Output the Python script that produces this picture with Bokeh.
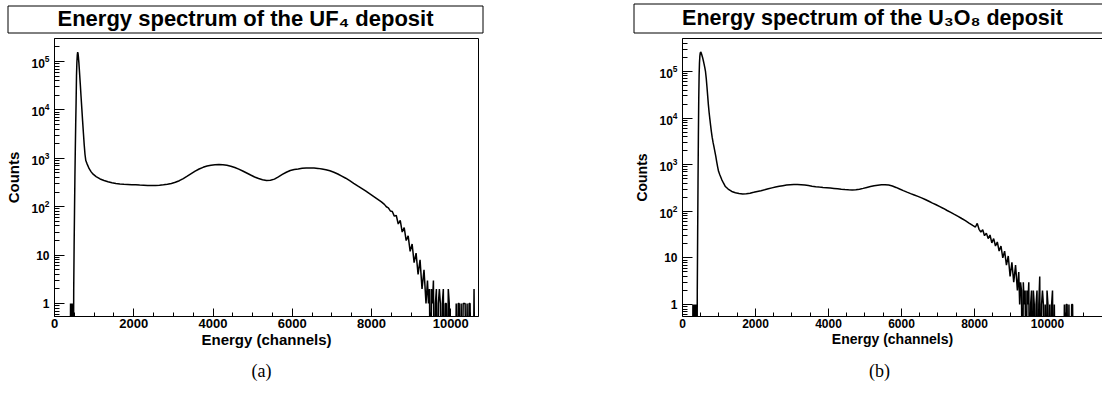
import numpy as np
from bokeh.plotting import figure
from bokeh.layouts import row, column
from bokeh.models import Range1d, FixedTicker, LogTickFormatter, LinearAxis
from bokeh.core.properties import value
from bokeh.embed import file_html
from bokeh.resources import INLINE

# ---------------- texts ----------------
titles = ["Energy spectrum of the UF\u2084 deposit", "Energy spectrum of the U\u2083O\u2088 deposit"]
captions = ["(a)", "(b)"]
x_label = "Energy (channels)"
y_label = "Counts"
x_ticks = [0, 2000, 4000, 6000, 8000, 10000]
y_ticks = [1, 10, 100, 1000, 10000, 100000]

# ---------------- UF4 spectrum (bin segments: first left edge, bin width, counts) ----------------
uf4_seg_starts = [0, 400, 620, 800, 1000, 1500, 8300, 9400]
uf4_seg_widths = [400, 10, 20, 50, 100, 100, 50, 25]
uf4_counts_low = [0]
uf4_counts_peak = [1, 0, 1, 0, 1, 0, 0, 0, 2, 15, 80, 400, 1500, 5000, 14000, 50000,
                   95000, 135000, 156000, 145000, 120000, 95000]
uf4_counts_fall = [62000, 35000, 19000, 10500, 5800, 3300, 1900, 1200, 900]
uf4_counts_knee = [760, 610, 525, 470]
uf4_counts_plateau = [420, 375, 348, 328, 312]
uf4_counts_body = [302, 296, 292, 289, 286, 283, 280, 278, 276, 275,
                   276, 279, 284, 292, 303, 320, 345, 382, 428, 482,
                   542, 602, 652, 694, 722, 740, 745, 736, 716, 686,
                   646, 598, 548, 498, 452, 412, 382, 362, 350, 352,
                   372, 415, 465, 515, 560, 590, 605, 622, 632, 634,
                   630, 620, 603, 582, 552, 516, 474, 430, 388, 345,
                   305, 270, 240, 212, 186, 164, 144, 126]
uf4_counts_slope = [112, 100, 95, 82, 80, 64, 66, 44, 52, 30, 37, 20, 25, 12, 17, 7,
                    11, 4, 8, 2, 5, 1]
uf4_counts_tail = [3, 1, 2, 0, 2, 1, 3, 0, 1, 2, 0, 1, 2, 1, 0, 1, 2, 0, 1, 1, 0, 2, 1, 0,
                   0, 0, 0, 0, 0,
                   1, 0, 1, 1, 0, 1, 0, 1, 1, 1, 0, 1, 0, 1, 1, 0, 0,
                   0, 2, 0, 0, 0, 0]
uf4_end = 10700

# ---------------- U3O8 spectrum ----------------
u3o8_seg_starts = [0, 280, 520, 800, 1000, 1200, 8000, 9200, 10750]
u3o8_seg_widths = [280, 10, 20, 25, 50, 100, 50, 25, 850]
u3o8_counts_low = [0]
u3o8_counts_peak = [1, 0, 1, 0, 1, 0, 1, 0, 1, 0, 1, 0, 2, 30, 400, 4000, 25000, 80000,
                    150000, 210000, 245000, 260000, 258000, 245000]
u3o8_counts_fall = [225000, 200000, 172000, 145000, 122000, 100000, 72000, 47000,
                    30000, 19000, 13000, 9500, 7000, 5200]
u3o8_counts_knee = [3900, 3000, 2400, 1900, 1500, 1150, 900, 720]
u3o8_counts_plateau = [600, 480, 400, 340]
u3o8_counts_body = [300, 266, 250, 241, 236, 238, 245, 255, 266, 277,
                    290, 304, 318, 331, 344, 355, 365, 372, 377, 378,
                    373, 365, 356, 346, 338, 331, 325, 320, 315, 310,
                    304, 298, 293, 289, 286, 289, 296, 310, 325, 340,
                    353, 363, 370, 372, 365, 349, 325, 300, 278, 258,
                    240, 224, 209, 194, 179, 164, 150, 138, 126, 115,
                    104, 95, 86, 78, 70, 63, 56, 50]
u3o8_counts_slope = [46, 55, 41, 36, 40, 30, 34, 26, 31, 21, 26, 18, 22, 14, 18, 10,
                     14, 7, 11, 4, 8, 3, 7, 2]
u3o8_counts_tail = [5, 1, 3, 2, 0, 3, 1, 2, 0, 2, 1, 3, 0, 1, 2, 0, 2, 1, 0, 1,
                    2, 0, 1, 4, 0, 1, 2, 1, 0, 1, 0, 2, 1, 0, 1, 0, 1, 2, 0, 1,
                    0, 0, 0, 0, 0, 0, 0, 0, 0, 0,
                    1, 0, 1, 1, 0, 1, 0, 0, 1, 1, 0, 0]
u3o8_counts_high = [0]
u3o8_end = 11600


def histogram_points(starts, widths, segments, end, floor):
    """Non-empty bins -> point at bin centre; empty bins -> floor at both bin edges."""
    xs, ys = [], []
    bounds = list(starts[1:]) + [end]
    for start, width, counts, stop in zip(starts, widths, segments, bounds):
        for i, c in enumerate(counts):
            left = start + i * width
            right = min(left + width, stop)
            if c > 0:
                xs.append(0.5 * (left + right))
                ys.append(c)
            else:
                xs += [left, right]
                ys += [floor, floor]
    return np.array(xs, float), np.array(ys, float)


FONT = "Liberation Sans"


def bare_fig(width, height):
    f = figure(width=width, height=height, x_range=Range1d(0, width), y_range=Range1d(height, 0),
               x_axis_location=None, y_axis_location=None, toolbar_location=None, title=None,
               output_backend="svg", min_border_left=0, min_border_right=0,
               min_border_top=0, min_border_bottom=0, outline_line_color=None,
               frame_align=False, border_fill_color="white", background_fill_color="white")
    f.grid.visible = False
    return f


def title_fig(width, height, box_left, box_top, box_bottom, box_right, text, text_x, closed, size):
    t = bare_fig(width, height)
    if closed:
        xs = [[box_right, box_left, box_left, box_right, box_right]]
        ys = [[box_top, box_top, box_bottom, box_bottom, box_top]]
    else:
        xs = [[box_right, box_left, box_left, box_right]]
        ys = [[box_top, box_top, box_bottom, box_bottom]]
    t.multi_line(xs, ys, line_color="black", line_width=1)
    t.text(x=[text_x], y=[17.5], text=[text], text_font=value(FONT), text_font_style="bold",
           text_font_size=size, text_align="center", text_baseline="alphabetic", text_color="black")
    return t


def caption_fig(width, height, text, text_x):
    c = bare_fig(width, height)
    c.text(x=[text_x], y=[14], text=[text], text_font=value("Liberation Serif"),
           text_font_size="18px", text_align="center", text_baseline="middle", text_color="black")
    return c


def spectrum_fig(width, height, xs, ys, x_end, y_range, border_left, border_right,
                 tick_size, label_size, closed):
    p = figure(width=width, height=height, x_range=Range1d(0, x_end), y_range=Range1d(*y_range),
               y_axis_type="log", toolbar_location=None, output_backend="svg", title=None,
               min_border_left=border_left, min_border_right=border_right,
               min_border_top=4, min_border_bottom=40, frame_align=False,
               border_fill_color=None,
               outline_line_color="black" if closed else None)
    p.grid.visible = False
    p.line(xs, ys, line_color="black", line_width=1.5)

    minor_x = [v for v in range(500, int(x_end), 500) if v % 2000 != 0]
    p.xaxis.ticker = FixedTicker(ticks=x_ticks, minor_ticks=minor_x)
    minor_y = [m * d for d in [0.1] + y_ticks for m in range(2, 10)]
    p.yaxis.ticker = FixedTicker(ticks=y_ticks, minor_ticks=minor_y)
    p.yaxis.formatter = LogTickFormatter(min_exponent=2)

    for ax, tin, tmin in ((p.xaxis, 8, 4), (p.yaxis, 10, 5)):
        ax.axis_line_color = "black"
        ax.major_tick_line_color = "black"
        ax.minor_tick_line_color = "black"
        ax.major_tick_out = 0
        ax.minor_tick_out = 0
        ax.major_tick_in = tin
        ax.minor_tick_in = tmin
        ax.major_label_text_font = FONT
        ax.major_label_text_font_style = "bold"
        ax.major_label_text_color = "black"
        ax.axis_label_text_font = FONT
        ax.axis_label_text_font_style = "bold"
        ax.axis_label_text_color = "black"
        ax.axis_label_text_font_size = label_size
    p.xaxis.major_label_text_font_size = tick_size
    p.yaxis.major_label_text_font_size = "12px"
    p.xaxis.axis_label = x_label
    p.yaxis.axis_label = y_label
    p.xaxis.major_label_standoff = 2
    p.xaxis.axis_label_standoff = 0
    p.yaxis.major_label_standoff = 5
    p.yaxis.axis_label_standoff = 6
    if not closed:
        top = LinearAxis(ticker=FixedTicker(ticks=[]), major_label_text_font_size="0px",
                         major_tick_in=0, major_tick_out=0, minor_tick_in=0, minor_tick_out=0,
                         axis_line_color="black")
        p.add_layout(top, "above")
    return p


# ----- left panel -----
xa, ya = histogram_points(uf4_seg_starts, uf4_seg_widths,
                          [uf4_counts_low, uf4_counts_peak, uf4_counts_fall, uf4_counts_knee,
                           uf4_counts_plateau, uf4_counts_body, uf4_counts_slope, uf4_counts_tail],
                          uf4_end, 0.1)
ta = title_fig(600, 34, 7.5, 5.5, 32.5, 482.5, titles[0], 245, True, "22px")
pa = spectrum_fig(600, 322, xa, ya, 10700, (0.54, 2.99e5), 54, 122, "13px", "15px", True)
ca = caption_fig(600, 40, captions[0], 261)

# ----- right panel -----
xb, yb = histogram_points(u3o8_seg_starts, u3o8_seg_widths,
                          [u3o8_counts_low, u3o8_counts_peak, u3o8_counts_fall, u3o8_counts_knee,
                           u3o8_counts_plateau, u3o8_counts_body, u3o8_counts_slope,
                           u3o8_counts_tail, u3o8_counts_high],
                          u3o8_end, 0.1)
tb = title_fig(502, 34, 33.5, 3.5, 32.5, 502, titles[1], 272, False, "21.5px")
pb = spectrum_fig(502, 322, xb, yb, 11507, (0.553, 5.1e5), 82, 0, "12px", "14px", False)
cb = caption_fig(502, 40, captions[1], 279)

layout = row(column(ta, pa, ca, spacing=0), column(tb, pb, cb, spacing=0), spacing=0)

open("out.html", "w").write(file_html(layout, INLINE))
